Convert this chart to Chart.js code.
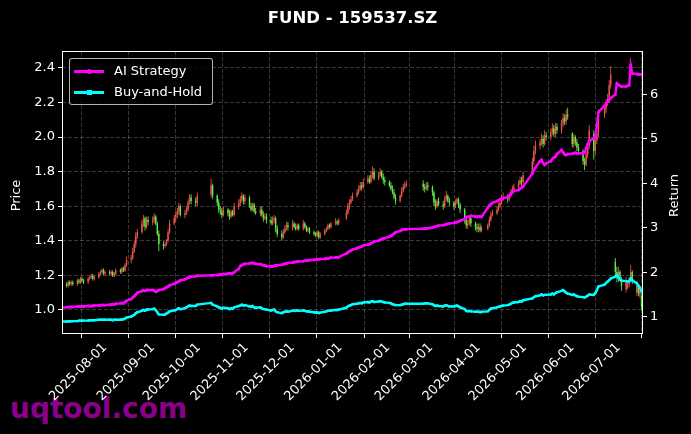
<!DOCTYPE html>
<html><head><meta charset="utf-8">
<script src="https://cdn.jsdelivr.net/npm/chart.js@4.4.1/dist/chart.umd.min.js"></script>
<style>
html,body{margin:0;padding:0;background:#000;}
#wrap{position:relative;width:691px;height:434px;overflow:hidden;background:#000;font-family:'DejaVu Sans',sans-serif;}
canvas{display:block;position:relative;z-index:1;}
#legend{position:absolute;z-index:2;left:69px;top:58px;width:142px;height:45px;border:1px solid rgba(210,210,210,0.85);border-radius:3px;background:rgba(0,0,0,0.8);color:#fff;font-size:13px;}
.row{position:absolute;left:0;height:20px;width:142px;}
.ln{position:absolute;left:4px;top:9px;width:30px;height:2.6px;}
.mk{position:absolute;left:17px;top:7.5px;width:5px;height:5px;}
.tx{position:absolute;left:44px;top:1px;line-height:18px;white-space:nowrap;}
#wm{position:absolute;z-index:0;left:10px;top:392px;font-weight:bold;font-size:28px;color:#8b008b;white-space:nowrap;}
</style></head><body>
<div id="wrap">
<div id="wm">uqtool.com</div>
<canvas id="c" width="691" height="434"></canvas>
<div id="legend">
  <div class="row" style="top:2px"><div class="ln" style="background:#ff00ff"></div><div class="mk" style="background:#ff00ff;border-radius:50%"></div><div class="tx">AI Strategy</div></div>
  <div class="row" style="top:23px"><div class="ln" style="background:#00ffff"></div><div class="mk" style="background:#00ffff"></div><div class="tx">Buy-and-Hold</div></div>
</div>
</div>
<script>
// ---------------- DATA ----------------
const startDate = '2025-07-04';
const endDate = '2026-07-17';
const holidays = ['2025-10-01','2025-10-02','2025-10-03','2025-10-06','2025-10-07','2025-10-08',
  '2026-01-01','2026-01-02','2026-02-16','2026-02-17','2026-02-18','2026-02-19','2026-02-20','2026-02-23',
  '2026-04-06','2026-05-01','2026-05-04','2026-05-05','2026-06-19'];
const monthTicks = ['2025-08-01','2025-09-01','2025-10-01','2025-11-01','2025-12-01','2026-01-01',
  '2026-02-01','2026-03-01','2026-04-01','2026-05-01','2026-06-01','2026-07-01'];
const priceTicks = [1.0,1.2,1.4,1.6,1.8,2.0,2.2,2.4];
const returnTicks = [1,2,3,4,5,6];

const opens = [
1.14,1.15,1.14,1.16,1.15,1.16,1.15,1.17,1.16,1.18,1.17,1.16,1.18,1.19,1.20,1.18,1.19,1.21,1.22,1.23,
1.21,1.22,1.21,1.22,1.20,1.21,1.23,1.22,1.24,1.23,1.26,1.29,1.30,1.34,1.38,1.43,1.45,1.50,1.53,1.48,1.52,
1.51,1.52,1.54,1.50,1.44,1.38,1.37,1.38,1.40,1.45,1.50,1.53,1.55,1.57,1.60,1.55,1.56,1.58,1.62,1.65,1.63,1.62,
1.67,1.72,1.66,1.62,1.58,1.57,1.55,1.58,1.56,1.54,1.57,1.55,1.60,1.62,1.64,1.66,1.63,
1.65,1.60,1.58,1.61,1.57,1.56,1.58,1.55,1.53,1.54,1.52,1.50,1.52,1.53,1.47,1.44,1.42,1.45,1.47,1.49,
1.48,1.50,1.48,1.47,1.49,1.47,1.50,1.48,1.46,1.47,1.45,1.44,1.43,1.45,1.42,1.44,1.46,1.47,1.49,1.48,1.50,1.51,1.50,
1.53,1.56,1.60,1.62,1.64,1.66,1.68,1.70,1.72,1.71,1.74,1.76,1.74,1.78,1.80,1.76,1.78,1.80,1.77,1.75,
1.74,1.72,1.70,1.68,1.65,1.63,1.66,1.69,1.71,1.72,1.73,1.71,1.70,1.72,
1.71,1.68,1.62,1.60,1.63,1.61,1.60,1.64,1.66,1.63,1.62,1.60,1.62,1.64,1.61,1.58,1.52,1.49,1.50,1.53,1.50,1.48,
1.47,1.48,1.46,1.47,1.49,1.52,1.55,1.56,1.58,1.60,1.62,1.64,1.65,1.64,1.66,1.68,1.70,1.71,1.73,1.75,1.74,
1.80,1.86,1.92,1.95,1.97,1.99,1.96,2.01,2.00,2.03,2.05,2.02,2.06,2.04,2.08,2.11,2.09,2.13,
2.02,1.96,2.00,1.97,1.94,1.92,1.86,1.84,1.90,1.95,2.02,1.92,1.98,2.02,2.13,2.16,2.20,2.22,2.30,1.28,1.22,
1.18,1.22,1.18,1.12,1.13,1.15,1.17,1.22,1.10,1.14,1.09,1.08,1.03];
const closes = [
1.15,1.14,1.16,1.15,1.16,1.15,1.17,1.16,1.18,1.17,1.16,1.18,1.19,1.20,1.18,1.19,1.21,1.22,1.23,1.21,
1.22,1.21,1.22,1.20,1.21,1.23,1.22,1.24,1.23,1.26,1.29,1.30,1.34,1.38,1.43,1.45,1.50,1.53,1.48,1.52,1.51,
1.52,1.54,1.50,1.44,1.38,1.37,1.38,1.40,1.45,1.50,1.53,1.55,1.57,1.60,1.55,1.56,1.58,1.62,1.65,1.63,1.62,1.66,
1.72,1.66,1.62,1.58,1.57,1.55,1.58,1.56,1.54,1.57,1.55,1.60,1.62,1.64,1.66,1.63,1.65,
1.60,1.58,1.61,1.57,1.56,1.58,1.55,1.53,1.54,1.52,1.50,1.52,1.53,1.47,1.44,1.42,1.45,1.47,1.49,1.48,
1.50,1.48,1.47,1.49,1.47,1.50,1.48,1.46,1.47,1.45,1.44,1.43,1.45,1.42,1.44,1.46,1.47,1.49,1.48,1.50,1.51,1.50,1.52,
1.56,1.60,1.62,1.64,1.66,1.68,1.70,1.72,1.71,1.74,1.76,1.74,1.78,1.80,1.76,1.78,1.80,1.77,1.75,1.74,
1.72,1.70,1.68,1.65,1.63,1.66,1.69,1.71,1.72,1.73,1.71,1.70,1.72,1.71,
1.68,1.62,1.60,1.63,1.61,1.60,1.64,1.66,1.63,1.62,1.60,1.62,1.64,1.61,1.58,1.52,1.49,1.50,1.53,1.50,1.48,1.47,
1.48,1.46,1.47,1.49,1.52,1.55,1.56,1.58,1.60,1.62,1.64,1.65,1.64,1.66,1.68,1.70,1.71,1.73,1.75,1.74,1.78,
1.86,1.92,1.95,1.97,1.99,1.96,2.01,2.00,2.03,2.05,2.02,2.06,2.04,2.08,2.11,2.09,2.13,2.12,
1.96,2.00,1.97,1.94,1.92,1.86,1.84,1.90,1.95,2.04,1.92,1.98,2.02,2.13,2.16,2.20,2.22,2.30,2.36,1.22,1.20,
1.22,1.18,1.14,1.16,1.15,1.18,1.22,1.16,1.14,1.10,1.12,1.02,0.96];
const highs = [
1.16,1.16,1.17,1.17,1.17,1.17,1.18,1.18,1.19,1.19,1.18,1.19,1.20,1.21,1.21,1.20,1.22,1.23,1.24,1.24,
1.23,1.23,1.23,1.23,1.22,1.24,1.24,1.25,1.25,1.27,1.31,1.32,1.36,1.40,1.45,1.47,1.52,1.55,1.54,1.54,1.54,
1.54,1.56,1.55,1.51,1.46,1.40,1.39,1.41,1.47,1.52,1.55,1.57,1.59,1.62,1.61,1.58,1.60,1.64,1.67,1.67,1.65,1.68,
1.76,1.73,1.67,1.64,1.60,1.59,1.60,1.59,1.58,1.58,1.58,1.62,1.64,1.66,1.68,1.67,1.67,
1.66,1.62,1.62,1.62,1.59,1.60,1.60,1.57,1.56,1.56,1.54,1.54,1.55,1.54,1.49,1.46,1.47,1.49,1.51,1.51,
1.52,1.51,1.50,1.50,1.50,1.52,1.51,1.49,1.48,1.48,1.46,1.45,1.46,1.46,1.45,1.47,1.48,1.50,1.50,1.51,1.53,1.52,1.53,
1.58,1.62,1.64,1.66,1.68,1.70,1.72,1.74,1.74,1.76,1.78,1.78,1.80,1.83,1.82,1.80,1.82,1.81,1.79,1.77,
1.75,1.74,1.72,1.70,1.67,1.67,1.71,1.73,1.74,1.75,1.75,1.73,1.74,1.74,
1.72,1.69,1.64,1.64,1.65,1.63,1.66,1.69,1.67,1.65,1.63,1.64,1.65,1.65,1.62,1.59,1.54,1.52,1.54,1.54,1.51,1.50,
1.50,1.50,1.49,1.50,1.54,1.57,1.58,1.60,1.62,1.64,1.67,1.68,1.67,1.68,1.70,1.72,1.73,1.75,1.77,1.77,1.80,
1.88,1.95,1.98,1.99,2.02,2.01,2.04,2.03,2.05,2.08,2.07,2.08,2.08,2.10,2.14,2.13,2.16,2.17,
2.03,2.02,2.01,1.99,1.96,1.93,1.88,1.92,1.97,2.07,2.04,2.00,2.04,2.16,2.18,2.22,2.25,2.33,2.41,1.30,1.25,
1.25,1.23,1.19,1.19,1.17,1.19,1.26,1.23,1.17,1.15,1.14,1.09,1.05];
const lows = [
1.13,1.13,1.13,1.14,1.14,1.14,1.14,1.15,1.15,1.16,1.15,1.15,1.17,1.18,1.17,1.17,1.18,1.20,1.21,1.20,
1.20,1.20,1.20,1.19,1.19,1.20,1.21,1.21,1.22,1.22,1.25,1.27,1.29,1.33,1.36,1.41,1.44,1.48,1.46,1.47,1.49,
1.49,1.50,1.49,1.43,1.34,1.35,1.36,1.37,1.39,1.44,1.49,1.51,1.53,1.55,1.54,1.53,1.55,1.57,1.61,1.61,1.60,1.60,
1.65,1.64,1.60,1.56,1.55,1.53,1.54,1.54,1.52,1.53,1.54,1.54,1.58,1.60,1.62,1.61,1.61,
1.59,1.57,1.57,1.56,1.55,1.54,1.54,1.51,1.52,1.50,1.49,1.49,1.50,1.45,1.42,1.40,1.41,1.44,1.46,1.46,
1.46,1.47,1.46,1.46,1.46,1.46,1.47,1.45,1.45,1.44,1.43,1.42,1.42,1.41,1.41,1.43,1.45,1.46,1.47,1.47,1.49,1.49,1.49,
1.52,1.55,1.58,1.61,1.63,1.65,1.67,1.69,1.69,1.70,1.73,1.73,1.73,1.76,1.75,1.75,1.77,1.76,1.73,1.72,
1.71,1.69,1.67,1.64,1.61,1.62,1.65,1.68,1.70,1.71,1.69,1.68,1.69,1.69,
1.66,1.60,1.58,1.59,1.60,1.58,1.59,1.63,1.62,1.60,1.58,1.59,1.61,1.59,1.56,1.50,1.47,1.47,1.49,1.48,1.46,1.45,
1.45,1.45,1.45,1.46,1.48,1.51,1.54,1.55,1.57,1.59,1.61,1.63,1.62,1.63,1.65,1.67,1.69,1.70,1.72,1.72,1.73,
1.78,1.84,1.90,1.93,1.95,1.94,1.95,1.98,1.98,2.01,2.00,2.00,2.02,2.02,2.06,2.07,2.07,2.10,
1.94,1.94,1.95,1.92,1.90,1.84,1.81,1.83,1.88,1.93,1.87,1.90,1.96,2.00,2.11,2.14,2.18,2.20,2.28,1.19,1.16,
1.16,1.17,1.11,1.10,1.12,1.13,1.16,1.15,1.08,1.08,1.07,1.00,0.94];
const aiStrategy = [
1.21,1.21,1.22,1.22,1.22,1.22,1.23,1.23,1.23,1.23,1.23,1.24,1.24,1.24,1.24,1.25,1.25,1.26,1.26,1.26,
1.26,1.27,1.27,1.28,1.28,1.29,1.30,1.31,1.30,1.33,1.36,1.40,1.43,1.46,1.50,1.54,1.58,1.59,1.58,1.60,1.60,
1.60,1.59,1.56,1.58,1.60,1.62,1.64,1.66,1.68,1.71,1.74,1.76,1.78,1.80,1.82,1.84,1.86,1.88,1.89,1.90,1.91,1.92,
1.93,1.93,1.94,1.94,1.95,1.95,1.96,1.97,1.97,1.98,1.98,2.00,2.08,2.14,2.16,2.18,2.19,
2.20,2.21,2.21,2.20,2.19,2.18,2.17,2.16,2.15,2.14,2.13,2.13,2.14,2.15,2.16,2.17,2.18,2.19,2.20,2.21,
2.22,2.23,2.23,2.24,2.24,2.25,2.26,2.26,2.27,2.27,2.28,2.28,2.29,2.29,2.30,2.30,2.31,2.31,2.32,2.33,2.33,2.34,2.34,
2.42,2.45,2.47,2.49,2.51,2.54,2.56,2.57,2.58,2.60,2.62,2.63,2.65,2.67,2.69,2.71,2.73,2.75,2.76,2.77,
2.80,2.82,2.84,2.87,2.90,2.93,2.95,2.96,2.96,2.97,2.98,2.98,2.99,2.99,
3.01,3.02,3.03,3.04,3.05,3.06,3.07,3.08,3.09,3.10,3.11,3.12,3.13,3.14,3.16,3.20,3.24,3.25,3.25,3.27,3.25,3.25,
3.26,3.25,3.25,3.45,3.50,3.53,3.56,3.60,3.62,3.64,3.66,3.67,3.69,3.72,3.76,3.80,3.83,3.85,3.88,3.90,3.93,
4.22,4.30,4.36,4.50,4.53,4.46,4.42,4.45,4.50,4.55,4.58,4.60,4.66,4.75,4.70,4.65,4.64,4.66,
4.67,4.68,4.69,4.68,4.68,4.68,4.69,4.80,4.88,4.95,5.02,5.06,5.30,5.60,5.75,5.80,5.84,5.88,5.92,6.00,6.25,
6.22,6.20,6.18,6.18,6.20,6.21,6.66,6.48,6.46,6.46,6.45,6.45,6.45];
const buyAndHold = [
0.89,0.89,0.90,0.89,0.90,0.90,0.90,0.91,0.91,0.91,0.91,0.91,0.92,0.92,0.92,0.92,0.93,0.93,0.93,0.93,
0.93,0.93,0.93,0.92,0.93,0.93,0.93,0.94,0.94,0.96,0.98,1.00,1.02,1.04,1.08,1.10,1.13,1.15,1.13,1.16,1.16,
1.17,1.18,1.15,1.10,1.05,1.04,1.05,1.07,1.09,1.12,1.14,1.15,1.17,1.19,1.17,1.19,1.21,1.23,1.25,1.24,1.24,1.27,
1.31,1.27,1.23,1.21,1.20,1.18,1.20,1.19,1.17,1.19,1.18,1.21,1.24,1.25,1.27,1.25,1.26,
1.23,1.22,1.24,1.21,1.20,1.21,1.19,1.17,1.17,1.16,1.14,1.15,1.16,1.12,1.10,1.08,1.10,1.11,1.12,1.11,
1.13,1.14,1.13,1.14,1.13,1.14,1.13,1.12,1.12,1.11,1.10,1.09,1.10,1.08,1.09,1.11,1.12,1.13,1.13,1.14,1.15,1.15,1.16,
1.20,1.23,1.25,1.26,1.28,1.29,1.30,1.31,1.30,1.32,1.33,1.32,1.34,1.35,1.33,1.34,1.35,1.34,1.33,1.32,
1.31,1.30,1.28,1.27,1.26,1.26,1.27,1.28,1.29,1.29,1.29,1.30,1.30,1.30,
1.28,1.26,1.24,1.25,1.24,1.23,1.25,1.26,1.24,1.23,1.23,1.24,1.25,1.23,1.21,1.17,1.13,1.12,1.13,1.12,1.11,1.11,
1.11,1.10,1.11,1.12,1.15,1.18,1.19,1.21,1.22,1.23,1.24,1.25,1.26,1.27,1.29,1.31,1.32,1.33,1.35,1.34,1.37,
1.41,1.44,1.46,1.48,1.50,1.48,1.49,1.49,1.50,1.52,1.50,1.53,1.55,1.58,1.60,1.57,1.54,1.52,
1.49,1.50,1.48,1.46,1.45,1.44,1.43,1.45,1.47,1.50,1.49,1.53,1.60,1.68,1.72,1.76,1.79,1.82,1.86,1.90,1.94,
1.88,1.83,1.81,1.80,1.79,1.80,1.86,1.82,1.75,1.70,1.65,1.58,1.53];

// ---------------- BUILD ----------------
const DAY = 86400000;
const toDay = s => { const [y,m,d] = s.split('-').map(Number); return Math.round(Date.UTC(y,m-1,d)/DAY); };
const d0 = toDay(startDate), d1 = toDay(endDate);
const tradingDays = [];
for (let d = d0; d <= d1; d++) {
  const dt = new Date(d*DAY); const wd = dt.getUTCDay();
  if (wd === 0 || wd === 6) continue;
  if (holidays.includes(dt.toISOString().slice(0,10))) continue;
  tradingDays.push(d - d0);
}
const tickDays = monthTicks.map(s => toDay(s) - d0);
const UP = '#f0564a', DOWN = '#62ee46';
const n = Math.min(tradingDays.length, closes.length);
const bodies = [], wicks = [], colors = [], aiPts = [], bhPts = [];
for (let i = 0; i < n; i++) {
  const x = tradingDays[i];
  bodies.push({x, y: [opens[i], closes[i]]});
  wicks.push({x, y: [lows[i], highs[i]]});
  colors.push(closes[i] >= opens[i] ? UP : DOWN);
  aiPts.push({x, y: aiStrategy[i]});
  bhPts.push({x, y: buyAndHold[i]});
}

const FONT = {family: "'DejaVu Sans'", size: 13};
const GRID = 'rgba(255,255,255,0.28)';
const frame = {
  id: 'frame',
  afterDraw(chart) {
    const {ctx, chartArea: a} = chart;
    ctx.save(); ctx.strokeStyle = '#fff'; ctx.lineWidth = 1;
    ctx.strokeRect(Math.round(a.left)+0.5, Math.round(a.top)+0.5, Math.round(a.right-a.left)-1, Math.round(a.bottom-a.top)-1);
    ctx.fillStyle = '#fff'; ctx.font = "13px 'DejaVu Sans'"; ctx.textAlign = 'center'; ctx.textBaseline = 'middle';
    const midY = (a.top + a.bottom) / 2 + 3;
    ctx.save(); ctx.translate(17, midY); ctx.rotate(-Math.PI/2); ctx.fillText('Price', 0, 0); ctx.restore();
    ctx.save(); ctx.translate(675, midY); ctx.rotate(-Math.PI/2); ctx.fillText('Return', 0, 0); ctx.restore();
    ctx.restore();
  }
};

new Chart(document.getElementById('c'), {
  type: 'bar',
  data: { datasets: [
    {type:'line', label:'AI Strategy', data: aiPts, xAxisID:'x', yAxisID:'y2', borderColor:'#ff00ff', backgroundColor:'#ff00ff',
     borderWidth:2.4, pointRadius:1.5, pointBorderWidth:0, pointStyle:'circle', tension:0, order:0},
    {type:'line', label:'Buy-and-Hold', data: bhPts, xAxisID:'x', yAxisID:'y2', borderColor:'#00ffff', backgroundColor:'#00ffff',
     borderWidth:2.4, pointRadius:1.6, pointBorderWidth:0, pointStyle:'rect', tension:0, order:0},
    {type:'bar', label:'body', data: bodies, xAxisID:'x', yAxisID:'y', backgroundColor: colors, borderWidth:0,
     grouped:false, categoryPercentage:1, barPercentage:0.9, inflateAmount:0, order:1},
    {type:'bar', label:'wick', data: wicks, xAxisID:'x', yAxisID:'y', backgroundColor: colors, borderWidth:0,
     grouped:false, categoryPercentage:1, barPercentage:0.55, inflateAmount:0, order:2}
  ]},
  options: {
    responsive:false, animation:false, devicePixelRatio:1,
    layout:{padding:0},
    plugins:{
      legend:{display:false}, tooltip:{enabled:false},
      title:{display:true, fullSize:false, text:'FUND - 159537.SZ', color:'#fff', font:{family:"'DejaVu Sans'", size:16.5, weight:'bold'}, padding:{top:9, bottom:22.2}}
    },
    scales:{
      x:{type:'linear', position:'bottom', min:0, max:378, offset:false,
        afterBuildTicks: s => { s.ticks = tickDays.map(v => ({value:v})); },
        afterFit: s => { s.height = 100; },
        ticks:{color:'#fff', font:FONT, autoSkip:false, maxRotation:45, minRotation:45, padding:2,
          callback: (v) => { const i = tickDays.indexOf(v); return i >= 0 ? monthTicks[i] : ''; }},
        grid:{color:GRID, lineWidth:0.8, tickColor:'#fff', tickLength:4, tickWidth:1},
        border:{display:false, dash:[4,2]}
      },
      y:{type:'linear', position:'left', min:0.861, max:2.498,
        afterBuildTicks: s => { s.ticks = priceTicks.map(v => ({value:v})); },
        afterFit: s => { s.width = 62; },
        ticks:{color:'#fff', font:FONT, padding:3, callback: v => Number(v).toFixed(1)},
        grid:{color:GRID, lineWidth:0.8, tickColor:'#fff', tickLength:4, tickWidth:1},
        border:{display:false, dash:[4,2]}
      },
      y2:{type:'linear', position:'right', min:0.61, max:6.98,
        afterBuildTicks: s => { s.ticks = returnTicks.map(v => ({value:v})); },
        afterFit: s => { s.width = 48; },
        ticks:{color:'#fff', font:FONT, padding:3, callback: v => String(v)},
        grid:{drawOnChartArea:false, color:GRID, tickColor:'#fff', tickLength:4, tickWidth:1},
        border:{display:false}
      }
    }
  },
  plugins:[frame]
});
</script>
</body></html>
